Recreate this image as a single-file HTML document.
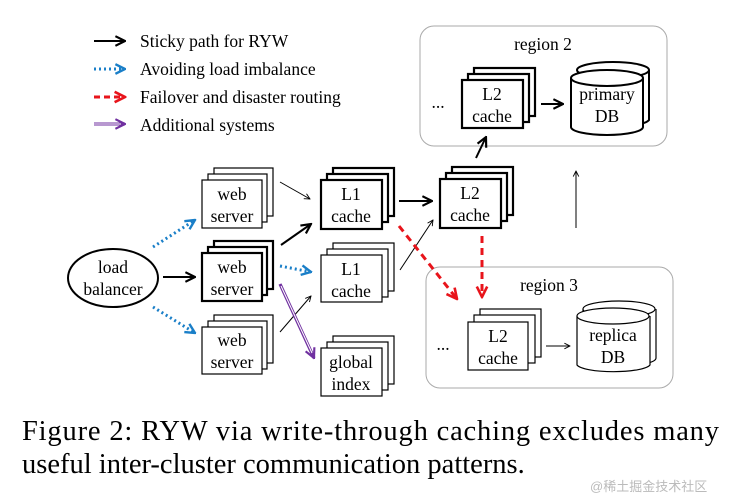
<!DOCTYPE html>
<html><head><meta charset="utf-8"><style>
body{margin:0;background:#fff;width:738px;height:498px;overflow:hidden}
svg{display:block}
text{font-family:"Liberation Serif",serif;fill:#000}
</style></head><body>
<svg width="738" height="498" viewBox="0 0 738 498">
<defs>
<marker id="ak" viewBox="0 0 10 10" refX="9" refY="5" markerWidth="7" markerHeight="7" orient="auto" markerUnits="userSpaceOnUse"><path d="M1,1 L9,5 L1,9" fill="none" stroke="#000" stroke-width="1.3"/></marker>
<marker id="akb" viewBox="0 0 10 10" refX="9" refY="5" markerWidth="12" markerHeight="12" orient="auto" markerUnits="userSpaceOnUse"><path d="M1,1 L9,5 L1,9" fill="none" stroke="#000" stroke-width="1.8"/></marker>
<marker id="ab" viewBox="0 0 10 10" refX="9" refY="5" markerWidth="12" markerHeight="12" orient="auto" markerUnits="userSpaceOnUse"><path d="M1,1 L9,5 L1,9" fill="none" stroke="#1a7fc8" stroke-width="2"/></marker>
<marker id="ar" viewBox="0 0 10 10" refX="9" refY="5" markerWidth="13" markerHeight="13" orient="auto" markerUnits="userSpaceOnUse"><path d="M1,1 L9,5 L1,9" fill="none" stroke="#e8141b" stroke-width="2"/></marker>
<marker id="ap" viewBox="0 0 10 10" refX="9" refY="5" markerWidth="12" markerHeight="12" orient="auto" markerUnits="userSpaceOnUse"><path d="M1,1 L9,5 L1,9" fill="none" stroke="#7030a0" stroke-width="1.8"/></marker>
</defs>

<!-- legend -->
<g stroke-width="2" fill="none">
<line x1="94" y1="41" x2="125" y2="41" stroke="#000" marker-end="url(#akb)"/>
<line x1="94" y1="69" x2="125" y2="69" stroke="#1a7fc8" stroke-width="3" stroke-dasharray="2,3" marker-end="url(#ab)"/>
<line x1="94" y1="97" x2="125" y2="97" stroke="#e8141b" stroke-width="3" stroke-dasharray="6,4" marker-end="url(#ar)"/>
<line x1="94" y1="124" x2="125" y2="124" stroke="#7030a0" stroke-width="3" marker-end="url(#ap)"/>
<line x1="94" y1="124" x2="121" y2="124" stroke="#fff" stroke-width="1"/>
</g>
<g font-size="17.5">
<text x="140" y="47">Sticky path for RYW</text>
<text x="140" y="75">Avoiding load imbalance</text>
<text x="140" y="103">Failover and disaster routing</text>
<text x="140" y="131">Additional systems</text>
</g>

<!-- regions -->
<rect x="420" y="26" width="247" height="120" rx="14" fill="none" stroke="#aaa"/>
<rect x="426" y="267" width="247" height="121" rx="14" fill="none" stroke="#aaa"/>
<text x="543" y="50" font-size="17.5" text-anchor="middle">region 2</text>
<text x="549" y="291" font-size="17.5" text-anchor="middle">region 3</text>

<!-- load balancer -->
<ellipse cx="113" cy="278" rx="45" ry="29" fill="#fff" stroke="#000" stroke-width="2"/>
<text x="113" y="273" font-size="17.5" text-anchor="middle">load</text>
<text x="113" y="295" font-size="17.5" text-anchor="middle">balancer</text>

<!-- stacks -->
<g fill="#fff" stroke="#000">
<rect x="214" y="168" width="59" height="48" stroke-width="1.2"/><rect x="208" y="174" width="59" height="48" stroke-width="1.2"/><rect x="202" y="180" width="60" height="48" stroke-width="1.2"/>
<rect x="214" y="241" width="59" height="48" stroke-width="2.2"/><rect x="208" y="247" width="59" height="48" stroke-width="2.2"/><rect x="202" y="253" width="60" height="48" stroke-width="2.2"/>
<rect x="214" y="315" width="59" height="48" stroke-width="1.2"/><rect x="208" y="321" width="59" height="48" stroke-width="1.2"/><rect x="202" y="327" width="60" height="47" stroke-width="1.2"/>
<rect x="333" y="168" width="61" height="48" stroke-width="2.2"/><rect x="327" y="174" width="61" height="48" stroke-width="2.2"/><rect x="321" y="180" width="61" height="49" stroke-width="2.2"/>
<rect x="333" y="243" width="61" height="48" stroke-width="1.2"/><rect x="327" y="249" width="61" height="48" stroke-width="1.2"/><rect x="321" y="255" width="61" height="47" stroke-width="1.2"/>
<rect x="333" y="336" width="61" height="48" stroke-width="1.2"/><rect x="327" y="342" width="61" height="48" stroke-width="1.2"/><rect x="321" y="348" width="61" height="48" stroke-width="1.2"/>
<rect x="452" y="167" width="61" height="48" stroke-width="2.2"/><rect x="446" y="173" width="61" height="48" stroke-width="2.2"/><rect x="440" y="179" width="61" height="49" stroke-width="2.2"/>
<rect x="474" y="68" width="61" height="48" stroke-width="2.2"/><rect x="468" y="74" width="61" height="48" stroke-width="2.2"/><rect x="462" y="80" width="61" height="48" stroke-width="2.2"/>
<rect x="480" y="309" width="61" height="48" stroke-width="1.2"/><rect x="474" y="315" width="61" height="48" stroke-width="1.2"/><rect x="468" y="322" width="60" height="48" stroke-width="1.2"/>
</g>
<g font-size="17.5" text-anchor="middle">
<text x="232" y="200">web</text><text x="232" y="222">server</text>
<text x="232" y="273">web</text><text x="232" y="295">server</text>
<text x="232" y="346">web</text><text x="232" y="368">server</text>
<text x="351" y="200">L1</text><text x="351" y="222">cache</text>
<text x="351" y="275">L1</text><text x="351" y="297">cache</text>
<text x="351" y="368">global</text><text x="351" y="390">index</text>
<text x="470" y="199">L2</text><text x="470" y="221">cache</text>
<text x="492" y="100">L2</text><text x="492" y="122">cache</text>
<text x="498" y="342">L2</text><text x="498" y="364">cache</text>
<text x="438" y="108">...</text>
<text x="443" y="350">...</text>
</g>

<!-- DBs -->
<g fill="#fff" stroke="#000" stroke-width="2">
<path d="M578,70 v50 a36,8 0 0 0 71,0 v-50"/><ellipse cx="613" cy="70" rx="36" ry="8"/>
<path d="M571,78 v49 a36,8 0 0 0 72,0 v-49"/><ellipse cx="607" cy="78" rx="36" ry="8"/>
</g>
<g fill="#fff" stroke="#000" stroke-width="1.2">
<path d="M583,309 v49 a36,8 0 0 0 73,0 v-49"/><ellipse cx="619" cy="309" rx="36" ry="8"/>
<path d="M577,316 v49 a37,8 0 0 0 73,0 v-49"/><ellipse cx="613" cy="316" rx="36" ry="8"/>
</g>
<g font-size="17.5" text-anchor="middle">
<text x="607" y="100">primary</text><text x="607" y="122">DB</text>
<text x="613" y="341">replica</text><text x="613" y="363">DB</text>
</g>

<!-- arrows -->
<g fill="none">
<line x1="163" y1="277" x2="195" y2="277" stroke="#000" stroke-width="2" marker-end="url(#akb)"/>
<line x1="153" y1="247" x2="195" y2="220" stroke="#1a7fc8" stroke-width="3" stroke-dasharray="2,3" marker-end="url(#ab)"/>
<line x1="153" y1="307" x2="195" y2="333" stroke="#1a7fc8" stroke-width="3" stroke-dasharray="2,3" marker-end="url(#ab)"/>
<line x1="280" y1="182" x2="310" y2="199" stroke="#000" stroke-width="1" marker-end="url(#ak)"/>
<line x1="281" y1="245" x2="311" y2="224" stroke="#000" stroke-width="2" marker-end="url(#akb)"/>
<line x1="280" y1="266" x2="311" y2="272" stroke="#1a7fc8" stroke-width="3" stroke-dasharray="2,3" marker-end="url(#ab)"/>
<line x1="280" y1="332" x2="311" y2="296" stroke="#000" stroke-width="1" marker-end="url(#ak)"/>
<line x1="280" y1="284" x2="314" y2="358" stroke="#7030a0" stroke-width="3.2" marker-end="url(#ap)"/>
<line x1="281" y1="286" x2="312" y2="353" stroke="#fff" stroke-width="1"/>
<line x1="399" y1="201" x2="432" y2="201" stroke="#000" stroke-width="2" marker-end="url(#akb)"/>
<line x1="400" y1="270" x2="433" y2="220" stroke="#000" stroke-width="1" marker-end="url(#ak)"/>
<line x1="476" y1="158" x2="486" y2="137" stroke="#000" stroke-width="2" marker-end="url(#akb)"/>
<line x1="541" y1="104" x2="563" y2="104" stroke="#000" stroke-width="2" marker-end="url(#akb)"/>
<line x1="546" y1="346" x2="570" y2="346" stroke="#000" stroke-width="1" marker-end="url(#ak)"/>
<line x1="576" y1="228" x2="576" y2="171" stroke="#000" stroke-width="1" marker-end="url(#ak)"/>
<line x1="399" y1="226" x2="457" y2="299" stroke="#e8141b" stroke-width="3" stroke-dasharray="7,5" marker-end="url(#ar)"/>
<line x1="482" y1="236" x2="482" y2="297" stroke="#e8141b" stroke-width="3" stroke-dasharray="7,5" marker-end="url(#ar)"/>
</g>

<!-- caption -->
<text x="22" y="440" font-size="28.5" textLength="697" lengthAdjust="spacing">Figure 2: RYW via write-through caching excludes many</text>
<text x="22" y="473" font-size="28.5">useful inter-cluster communication patterns.</text>
<text x="590" y="491" font-size="13" style="font-family:'Liberation Sans','Noto Sans CJK SC',sans-serif;fill:#bbb">@稀土掘金技术社区</text>
</svg>
</body></html>
